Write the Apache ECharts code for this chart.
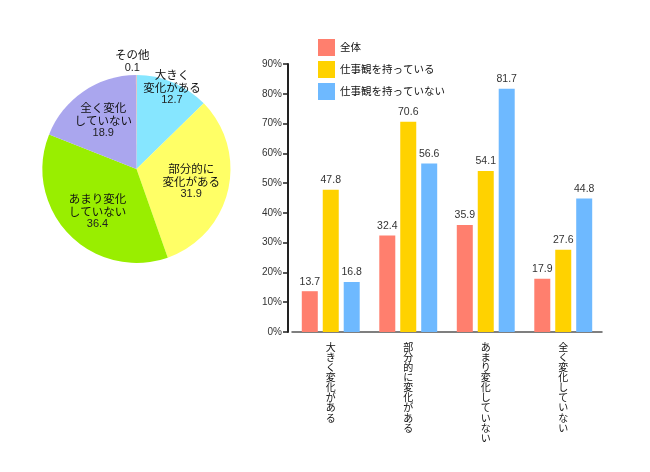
<!DOCTYPE html>
<html><head><meta charset="utf-8">
<script src="https://cdn.jsdelivr.net/npm/echarts@6/dist/echarts.min.js"></script>
<style>html,body{margin:0;padding:0;background:#fff}#c{width:650px;height:472px}</style>
</head><body><div id="c"></div>
<script>
const pieNames = ['大きく\n変化がある', '部分的に\n変化がある', 'あまり変化\nしていない', '全く変化\nしていない', 'その他'];
const pieValues = [12.7, 31.9, 36.4, 18.9, 0.1];
const pieColors = ['#86E6FF', '#FFFF66', '#99EE00', '#AAA6EE', '#FF9999'];
const pieLabelShift = [[16, -36], [6, 1], [-3, 7], [-5, -8], [-4, -58]];

const categories = ['大きく変化がある', '部分的に変化がある', 'あまり変化していない', '全く変化していない'];
const seriesNames = ['全体', '仕事観を持っている', '仕事観を持っていない'];
const seriesAll = [13.7, 32.4, 35.9, 17.9];
const seriesHave = [47.8, 70.6, 54.1, 27.6];
const seriesNot = [16.8, 56.6, 81.7, 44.8];
const barColors = ['#FF7F6E', '#FFD200', '#6EB9FF'];

const FONT = '"Noto Sans CJK JP", "Noto Sans", sans-serif';
const NUMFONT = '"Liberation Sans", Arial, sans-serif';
const chart = echarts.init(document.getElementById('c'), null, {renderer: 'canvas'});

const barSeries = [seriesAll, seriesHave, seriesNot].map((d, i) => ({
  type: 'bar', name: seriesNames[i], data: d,
  barWidth: 16, barGap: '31%',
  itemStyle: {color: barColors[i]},
  label: {show: true, position: 'top', distance: 4, fontSize: 10.5, color: '#333', fontFamily: NUMFONT}
}));

chart.setOption({
  animation: false,
  textStyle: {fontFamily: FONT},
  legend: {
    orient: 'vertical', left: 313, top: 34, itemWidth: 17, itemHeight: 17, itemGap: 5,
    icon: 'rect', data: seriesNames,
    textStyle: {fontSize: 10.5, color: '#111', fontFamily: FONT, padding: [0, 0, 0, 0]}
  },
  grid: {left: 292, right: 48, top: 64, bottom: 140},
  xAxis: {
    type: 'category', data: categories,
    axisLine: {lineStyle: {color: '#555', width: 1.5}},
    axisTick: {show: false},
    axisLabel: {
      interval: 0, margin: 10, fontSize: 10, lineHeight: 10.1, color: '#111', fontFamily: FONT,
      verticalAlign: 'top',
      formatter: v => v.split('').join('\n')
    }
  },
  yAxis: {
    type: 'value', min: 0, max: 90, interval: 10, offset: 4,
    axisLine: {show: true, lineStyle: {color: '#222', width: 2}},
    axisTick: {show: true, length: 5, lineStyle: {color: '#222', width: 1.5}},
    splitLine: {show: false},
    axisLabel: {formatter: '{value}%', fontSize: 10, color: '#333', margin: 6, fontFamily: NUMFONT}
  },
  series: [
    {
      type: 'pie', center: [136.5, 169], radius: 94, startAngle: 90, clockwise: true,
      silent: true,
      data: pieNames.map((n, i) => ({name: n, value: pieValues[i], itemStyle: {color: pieColors[i]}})),
      label: {
        show: true, position: 'inside', formatter: '{n|{b}}\n{v|{c}}',
        rich: {
          n: {fontSize: 11.5, color: '#111', lineHeight: 13, fontFamily: FONT, align: 'center'},
          v: {fontSize: 11, color: '#222', lineHeight: 12, fontFamily: NUMFONT, align: 'center'}
        }
      },
      labelLine: {show: false},
      labelLayout: p => ({dx: pieLabelShift[p.dataIndex][0], dy: pieLabelShift[p.dataIndex][1]})
    },
    ...barSeries
  ]
});
</script></body></html>
